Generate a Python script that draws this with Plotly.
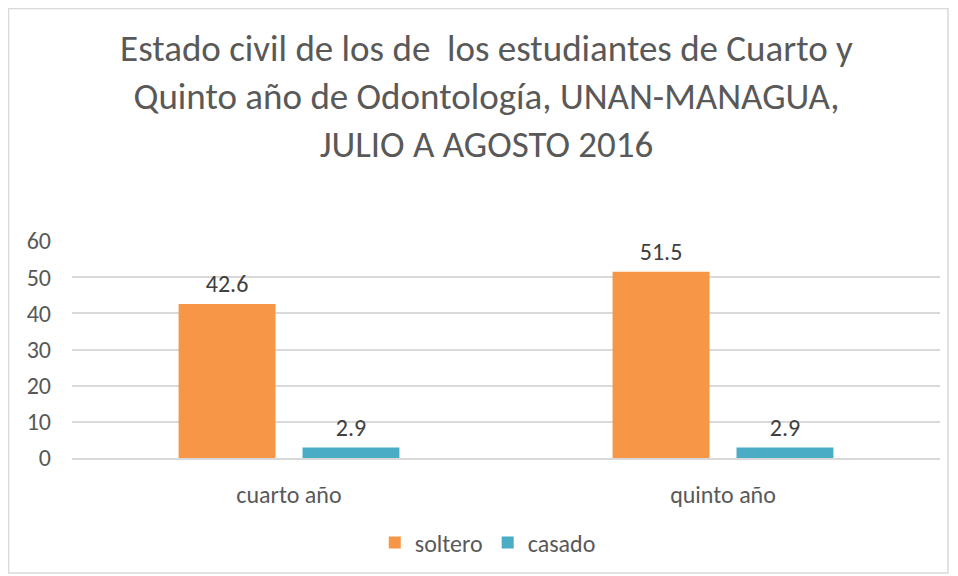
import plotly.graph_objects as go

categories = ["cuarto año", "quinto año"]
soltero = [42.6, 51.5]
casado = [2.9, 2.9]
series_names = ["soltero", "casado"]
title_lines = [
    "Estado civil de los de  los estudiantes de Cuarto y",
    "Quinto año de Odontología, UNAN-MANAGUA,",
    "JULIO A AGOSTO 2016",
]

FONT = "Calibri, Carlito, Lato, 'Open Sans', sans-serif"
TXT = "#595959"
LABEL_PAD = 0.8  # invisible spacer (data units) lifting value labels above bars

W, H = 942, 568
L, T, PW, PH = 64, 233, 868, 217

fig = go.Figure()
for name, vals, color, grp in [
    (series_names[0], soltero, "#F79646", "s"),
    (series_names[1], casado, "#4BACC6", "c"),
]:
    fig.add_trace(go.Bar(
        name=name, x=categories, y=vals, marker_color=color,
        marker_line_width=0, offsetgroup=grp, hoverinfo="x+y+name",
    ))
    # transparent spacer bar carrying the value label
    fig.add_trace(go.Bar(
        x=categories, y=[LABEL_PAD] * len(vals), base=vals,
        offsetgroup=grp, marker_color="rgba(0,0,0,0)", marker_line_width=0,
        showlegend=False, hoverinfo="skip", text=[f"{v:.1f}" for v in vals],
        textposition="outside", cliponaxis=False,
        textfont=dict(size=24, color="#404040", family=FONT),
    ))

fig.update_layout(
    width=W, height=H,
    paper_bgcolor="white", plot_bgcolor="white",
    margin=dict(l=L, r=W - L - PW, t=T, b=H - T - PH, autoexpand=False),
    barmode="group", bargap=0.429, bargroupgap=0.218,
    font=dict(family=FONT, color=TXT, size=24),
    title=dict(
        text="<br>".join(title_lines),
        x=0.4775, xanchor="center", xref="paper",
        y=1 - 53 / H, yanchor="top", yref="container",
        font=dict(size=37, color=TXT, family=FONT),
    ),
    legend=dict(
        orientation="h", x=0.479, xanchor="center", xref="paper",
        y=1 - 535 / H, yanchor="middle", yref="container",
        font=dict(size=24, color=TXT), traceorder="normal",
        itemwidth=30,
    ),
    shapes=[dict(
        type="rect", xref="paper", yref="paper",
        x0=(0.5 - L) / PW, x1=(940 - L) / PW,
        y0=-(565 - (T + PH)) / PH, y1=(T + PH - 0.5) / PH,
        line=dict(color="#D9D9D9", width=1.5), fillcolor="rgba(0,0,0,0)", layer="below",
    )],
)
fig.update_xaxes(
    showgrid=False, showline=True, linecolor="#D9D9D9", linewidth=1.5,
    ticks="", tickfont=dict(size=24, color=TXT), ticklabelstandoff=14,
)
fig.update_yaxes(
    range=[0, 60], dtick=10, showgrid=True, gridcolor="#D9D9D9", gridwidth=1.5,
    zeroline=False, showline=False, ticks="", tickfont=dict(size=24, color=TXT),
    ticklabelstandoff=20,
)

fig.write_html("out.html")
